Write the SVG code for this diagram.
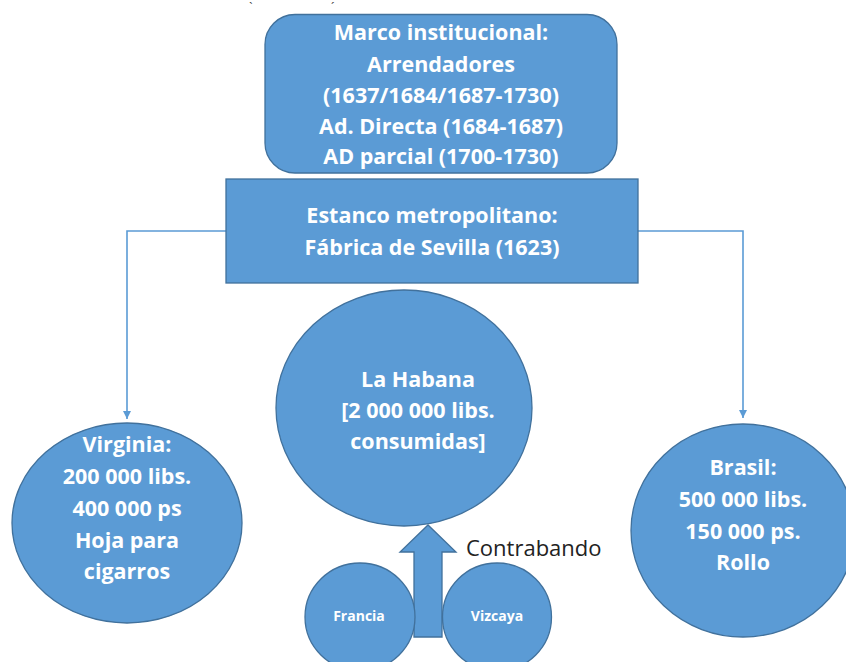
<svg xmlns="http://www.w3.org/2000/svg" width="846" height="662" viewBox="0 0 846 662">
<defs>
<style>
.n{fill:#5B9BD5;stroke:#41719C;stroke-width:1.3}
.t{font-family:"Open Sans","Liberation Sans",sans-serif;font-weight:bold;fill:#fff;text-anchor:middle;font-size:21.5px}
.s{font-size:14px}
.c{fill:none;stroke:#5B9BD5;stroke-width:1.6}
.lbl{font-family:"Open Sans","Liberation Sans",sans-serif;fill:#222;font-size:22px}
</style>
<marker id="ah" viewBox="0 0 10 10" refX="10" refY="5" markerWidth="5" markerHeight="5" orient="auto" markerUnits="strokeWidth">
<path d="M0,0L10,5L0,10z" fill="#5B9BD5"/>
</marker>
</defs>
<rect width="846" height="662" fill="#fff"/>
<text x="251" y="12" font-family="Liberation Sans,sans-serif" font-size="12" fill="#333" text-anchor="middle">`</text>
<text x="333" y="12" font-family="Liberation Sans,sans-serif" font-size="12" fill="#333" text-anchor="middle">´</text>
<g id="connectors">
<polyline class="c" points="226,231 127,231 127,419" marker-end="url(#ah)"/>
<polyline class="c" points="638,231 743,231 743,418" marker-end="url(#ah)"/>
</g>
<g id="marco">
<rect class="n" x="265" y="14.5" width="352" height="158.5" rx="30" ry="30"/>
<text class="t" x="441" y="40">Marco institucional:</text>
<text class="t" x="441" y="72">Arrendadores</text>
<text class="t" x="441" y="103">(1637/1684/1687-1730)</text>
<text class="t" x="441" y="134">Ad. Directa (1684-1687)</text>
<text class="t" x="441" y="164">AD parcial (1700-1730)</text>
</g>
<g id="estanco">
<rect class="n" x="226" y="179" width="412" height="104"/>
<text class="t" x="432" y="223">Estanco metropolitano:</text>
<text class="t" x="432" y="255">Fábrica de Sevilla (1623)</text>
</g>
<g id="habana">
<ellipse class="n" cx="404" cy="408" rx="128" ry="118"/>
<text class="t" x="418" y="387">La Habana</text>
<text class="t" x="418" y="418">[2 000 000 libs.</text>
<text class="t" x="418" y="449">consumidas]</text>
</g>
<g id="virginia">
<ellipse class="n" cx="127" cy="523" rx="115" ry="100"/>
<text class="t" x="127" y="452">Virginia:</text>
<text class="t" x="127" y="484">200 000 libs.</text>
<text class="t" x="127" y="516">400 000 ps</text>
<text class="t" x="127" y="548">Hoja para</text>
<text class="t" x="127" y="579">cigarros</text>
</g>
<g id="brasil">
<ellipse class="n" cx="743" cy="530.5" rx="112" ry="106.5"/>
<text class="t" x="743" y="475">Brasil:</text>
<text class="t" x="743" y="507">500 000 libs.</text>
<text class="t" x="743" y="539">150 000 ps.</text>
<text class="t" x="743" y="570">Rollo</text>
</g>
<g id="contrabando">
<path class="n" d="M414,637L414,552L400,552L428,525L456,552L442,552L442,637Z"/>
<text class="lbl" x="466" y="556">Contrabando</text>
</g>
<g id="francia">
<ellipse class="n" cx="360" cy="617" rx="55" ry="54"/>
<text class="t s" x="359" y="621">Francia</text>
</g>
<g id="vizcaya">
<ellipse class="n" cx="497" cy="617" rx="54.5" ry="54"/>
<text class="t s" x="497" y="621">Vizcaya</text>
</g>
</svg>
